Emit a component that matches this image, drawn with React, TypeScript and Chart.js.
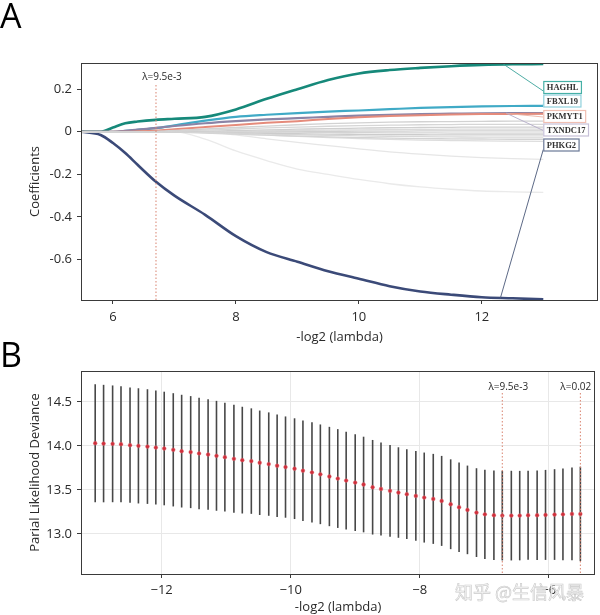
import React, { useEffect, useRef } from 'react';
import { Chart, registerables } from 'chart.js';

Chart.register(...registerables);
Chart.defaults.font.family = '"Open Sans", "DejaVu Sans", sans-serif';

// ---------------- Panel A: coefficient paths ----------------
const LAMBDA_A = [5.48, 5.8, 6.0, 6.2, 6.4, 6.7, 7.0, 7.5, 8.0, 8.5, 9.0, 9.5, 10.0, 10.5, 11.0, 11.5, 12.0, 12.5, 13.0];
const COEF_HAGHL = [0, 0, 0.02, 0.04, 0.048, 0.056, 0.061, 0.07, 0.105, 0.155, 0.2, 0.243, 0.274, 0.29, 0.3, 0.308, 0.314, 0.317, 0.318];
const COEF_FBXL19 = [0, 0, 0, 0.004, 0.009, 0.017, 0.03, 0.052, 0.07, 0.08, 0.088, 0.095, 0.1, 0.106, 0.112, 0.116, 0.119, 0.121, 0.122];
const COEF_PKMYT1 = [0, 0, 0, 0, 0.002, 0.006, 0.012, 0.022, 0.032, 0.042, 0.05, 0.06, 0.068, 0.074, 0.078, 0.081, 0.083, 0.084, 0.085];
const COEF_TXNDC17 = [0, 0, 0, 0.004, 0.01, 0.018, 0.027, 0.04, 0.05, 0.058, 0.064, 0.07, 0.076, 0.08, 0.083, 0.085, 0.087, 0.088, 0.088];
const COEF_PHKG2 = [0, -0.015, -0.053, -0.1, -0.155, -0.235, -0.3, -0.39, -0.49, -0.565, -0.61, -0.655, -0.69, -0.725, -0.75, -0.765, -0.777, -0.782, -0.787];

const GRAY_1 = [0, 0, 0, 0, 0, 0.002, 0.006, 0.013, 0.02, 0.027, 0.033, 0.038, 0.042, 0.045, 0.047, 0.048, 0.049, 0.05, 0.05];
const GRAY_2 = [0, 0, 0, 0, 0, 0, 0.003, 0.008, 0.013, 0.018, 0.022, 0.026, 0.029, 0.031, 0.033, 0.034, 0.035, 0.035, 0.035];
const GRAY_3 = [0, 0, 0, 0, 0, 0, 0, 0.003, 0.006, 0.009, 0.012, 0.015, 0.017, 0.019, 0.02, 0.021, 0.022, 0.022, 0.022];
const GRAY_4 = [0, 0, 0, 0, 0, 0, 0, 0, 0.002, 0.004, 0.006, 0.008, 0.009, 0.01, 0.011, 0.012, 0.012, 0.012, 0.012];
const GRAY_5 = [0, 0, 0, 0, 0, 0, 0, 0, 0, 0, 0.001, 0.002, 0.003, 0.003, 0.004, 0.004, 0.004, 0.004, 0.004];
const GRAY_6 = [0, 0, 0, 0, 0, 0, 0, 0, 0, -0.001, -0.002, -0.003, -0.004, -0.005, -0.005, -0.006, -0.006, -0.006, -0.006];
const GRAY_7 = [0, 0, 0, 0, 0, 0, 0, -0.002, -0.004, -0.007, -0.009, -0.011, -0.012, -0.013, -0.014, -0.015, -0.015, -0.015, -0.015];
const GRAY_8 = [0, 0, 0, 0, 0, 0, 0, -0.003, -0.007, -0.011, -0.014, -0.017, -0.019, -0.021, -0.023, -0.024, -0.025, -0.025, -0.025];
const GRAY_9 = [0, 0, 0, 0, 0, 0, -0.002, -0.006, -0.011, -0.016, -0.02, -0.024, -0.027, -0.03, -0.032, -0.033, -0.034, -0.035, -0.035];
const GRAY_10 = [0, 0, 0, 0, 0, 0, 0, -0.004, -0.01, -0.016, -0.022, -0.027, -0.032, -0.036, -0.039, -0.041, -0.043, -0.044, -0.045];
const GRAY_11 = [0, 0, 0, 0, 0, 0, 0, 0, -0.015, -0.033, -0.05, -0.065, -0.08, -0.094, -0.105, -0.114, -0.121, -0.126, -0.13];
const GRAY_12 = [0, 0, 0, 0, 0, 0, 0, -0.035, -0.09, -0.135, -0.175, -0.2, -0.224, -0.244, -0.259, -0.27, -0.278, -0.282, -0.285];

const GENES = ['HAGHL', 'FBXL19', 'PKMYT1', 'TXNDC17', 'PHKG2'];
const A_X_TICKS = [6, 8, 10, 12];
const A_Y_TICKS = [0.2, 0, -0.2, -0.4, -0.6];
const A_CUT = 6.7;
const A_CUT_LABEL = 'λ=9.5e-3';

// ---------------- Panel B: cross-validation ----------------
const B_LOG_LAMBDA = [
  -13.03, -12.9, -12.76, -12.63, -12.49, -12.36, -12.22, -12.09, -11.96, -11.82,
  -11.69, -11.55, -11.42, -11.28, -11.15, -11.02, -10.88, -10.75, -10.61, -10.48,
  -10.34, -10.21, -10.08, -9.94, -9.81, -9.67, -9.54, -9.4, -9.27, -9.14,
  -9.0, -8.87, -8.73, -8.6, -8.46, -8.33, -8.2, -8.06, -7.93, -7.79,
  -7.66, -7.52, -7.39, -7.26, -7.12, -6.99, -6.85, -6.72, -6.58, -6.45,
  -6.32, -6.18, -6.05, -5.91, -5.78, -5.64, -5.51,
];
const B_MEAN = [
  14.03, 14.026, 14.023, 14.019, 14.008, 14.0, 13.992, 13.981, 13.97, 13.955,
  13.94, 13.929, 13.914, 13.902, 13.887, 13.872, 13.853, 13.838, 13.827, 13.808,
  13.793, 13.774, 13.759, 13.741, 13.718, 13.699, 13.677, 13.652, 13.629, 13.606,
  13.583, 13.561, 13.53, 13.511, 13.489, 13.47, 13.451, 13.432, 13.413, 13.398,
  13.375, 13.337, 13.303, 13.273, 13.242, 13.223, 13.212, 13.208, 13.208, 13.208,
  13.212, 13.212, 13.216, 13.22, 13.223, 13.227, 13.227,
];
const B_SE = [
  0.67, 0.667, 0.663, 0.658, 0.655, 0.654, 0.651, 0.648, 0.645, 0.643,
  0.64, 0.636, 0.633, 0.628, 0.624, 0.618, 0.613, 0.606, 0.599, 0.593,
  0.587, 0.581, 0.575, 0.572, 0.57, 0.568, 0.566, 0.564, 0.561, 0.555,
  0.549, 0.543, 0.537, 0.528, 0.52, 0.514, 0.51, 0.51, 0.511, 0.511,
  0.511, 0.51, 0.507, 0.503, 0.504, 0.507, 0.509, 0.509, 0.509, 0.508,
  0.506, 0.508, 0.511, 0.515, 0.521, 0.527, 0.536,
];
const B_X_TICKS = [-12, -10, -8, -6];
const B_Y_TICKS = [13.0, 13.5, 14.0, 14.5];
const B_CUTS = [-6.72, -5.51];
const B_CUT_LABELS = ['λ=9.5e-3', 'λ=0.02'];

const WATERMARK = '知乎 @生信风暴';

const TXT = '#2a2a2a';
const FRAME = '#3a3a3a';

function framePlugin(id: string) {
  return {
    id,
    afterDraw(chart: any) {
      const { ctx, chartArea } = chart;
      ctx.save();
      ctx.strokeStyle = FRAME;
      ctx.lineWidth = 1;
      ctx.strokeRect(Math.round(chartArea.left) + 0.5, Math.round(chartArea.top) + 0.5,
        Math.round(chartArea.right - chartArea.left) - 1, Math.round(chartArea.bottom - chartArea.top));
      ctx.restore();
    },
  };
}

function letterPlugin(letter: string, baseline: number) {
  return {
    id: 'letter' + letter,
    afterDraw(chart: any) {
      const { ctx } = chart;
      ctx.save();
      ctx.font = '34px "Open Sans"';
      ctx.fillStyle = '#000';
      ctx.textBaseline = 'alphabetic';
      ctx.textAlign = 'left';
      ctx.fillText(letter, 0, baseline);
      ctx.restore();
    },
  };
}

function cutPlugin(cuts: number[], labels: string[], labelDy: number, lineDy: number) {
  return {
    id: 'cuts',
    afterDatasetsDraw(chart: any) {
      const { ctx, chartArea, scales } = chart;
      ctx.save();
      cuts.forEach((c, i) => {
        const px = scales.x.getPixelForValue(c);
        ctx.strokeStyle = '#d9826e';
        ctx.lineWidth = 1;
        ctx.setLineDash([1.5, 2]);
        ctx.beginPath();
        ctx.moveTo(px, chartArea.top + lineDy);
        ctx.lineTo(px, chartArea.bottom);
        ctx.stroke();
        ctx.setLineDash([]);
        ctx.font = '10px "Open Sans"';
        ctx.fillStyle = TXT;
        ctx.textAlign = 'center';
        ctx.textBaseline = 'middle';
        const w = ctx.measureText(labels[i]).width;
        const cx = Math.min(px + 6, chartArea.right - w / 2 - 4);
        ctx.fillText(labels[i], cx, chartArea.top + labelDy);
      });
      ctx.restore();
    },
  };
}

const GENE_LINE = ['#16897a', '#40aac6', '#e58b7b', '#8b84a6', '#3b4a78'];
const GENE_BOX = ['#46b0a6', '#8fd0dc', '#f0bfb2', '#c7c0d8', '#6a7896'];
const GENE_LINK = ['#3aa39a', '#8fd0dc', '#eab3a6', '#b3abc8', '#4a5878'];

const geneLabelPlugin = {
  id: 'geneLabels',
  afterDatasetsDraw(chart: any) {
    const { ctx, chartArea, scales } = chart;
    const { x, y } = scales;
    const boxLeft = x.getPixelForValue(13.0);
    const centers = [24, 37.5, 53, 66.5, 81.5].map((d) => chartArea.top + d);
    const anchors = [
      [12.35, 0.318, 4],
      [13.0, 0.122, 3],
      [12.4, 0.086, 1],
      [12.4, 0.087, 1],
      [12.3, -0.783, 5],
    ];
    ctx.save();
    ctx.font = 'bold 8.5px "Liberation Serif"';
    GENES.forEach((g, i) => {
      const [ax, ay, dy] = anchors[i];
      ctx.strokeStyle = GENE_LINK[i];
      ctx.lineWidth = 0.9;
      ctx.beginPath();
      ctx.moveTo(x.getPixelForValue(ax), y.getPixelForValue(ay));
      ctx.lineTo(boxLeft, centers[i] + dy);
      ctx.stroke();
    });
    GENES.forEach((g, i) => {
      const w = ctx.measureText(g).width + 6;
      const h = 12;
      const top = centers[i] - h / 2;
      ctx.fillStyle = '#fff';
      ctx.fillRect(boxLeft, top, w, h);
      ctx.strokeStyle = GENE_BOX[i];
      ctx.lineWidth = 1.2;
      ctx.strokeRect(boxLeft + 0.5, top + 0.5, w, h);
      ctx.fillStyle = '#333';
      ctx.textAlign = 'left';
      ctx.textBaseline = 'middle';
      ctx.fillText(g, boxLeft + 3.5, centers[i] + 1);
    });
    ctx.restore();
  },
};

function PanelA() {
  const ref = useRef<HTMLCanvasElement>(null);
  useEffect(() => {
    const grays = [GRAY_1, GRAY_2, GRAY_3, GRAY_4, GRAY_5, GRAY_6, GRAY_7, GRAY_8, GRAY_9, GRAY_10, GRAY_11, GRAY_12];
    const grayColors = ['#d2d2d2', '#d6d6d6', '#cfcfcf', '#dadada', '#d0d0d0', '#d4d4d4', '#cccccc', '#d8d8d8', '#d3d3d3', '#dddddd', '#e6e6e6', '#eaeaea'];
    const toPts = (arr: number[]) => LAMBDA_A.map((l, i) => ({ x: l, y: arr[i] }));
    const coloredArr = [COEF_HAGHL, COEF_FBXL19, COEF_PKMYT1, COEF_TXNDC17, COEF_PHKG2];
    const widths = [2.6, 2.2, 2.0, 2.2, 2.6];
    const datasets: any[] = [
      ...grays.map((g, i) => ({
        label: 'g' + i, data: toPts(g), borderColor: grayColors[i], borderWidth: 1.3,
        pointRadius: 0, cubicInterpolationMode: 'monotone', fill: false,
      })),
      ...[2, 3, 1, 0, 4].map((i) => ({
        label: GENES[i], data: toPts(coloredArr[i]), borderColor: GENE_LINE[i], borderWidth: widths[i],
        pointRadius: 0, cubicInterpolationMode: 'monotone', fill: false,
      })),
    ];
    const chart = new Chart(ref.current!, {
      type: 'line',
      data: { datasets },
      options: {
        animation: false,
        responsive: false,
        layout: { padding: { top: 63, right: 2, left: 0, bottom: 0 } },
        plugins: { legend: { display: false }, tooltip: { enabled: false } },
        scales: {
          x: {
            type: 'linear', min: 5.48, max: 13.89,
            afterBuildTicks: (s: any) => { s.ticks = A_X_TICKS.map((v) => ({ value: v })); },
            afterFit: (s: any) => { s.height = 45; },
            ticks: { autoSkip: false, maxRotation: 0, padding: 5, color: TXT, font: { size: 13 }, callback: (v: any) => String(v) },
            grid: { display: true, drawOnChartArea: false, drawTicks: true, tickLength: 4, tickColor: FRAME },
            border: { display: false },
            title: { display: true, text: '-log2 (lambda)', color: TXT, font: { size: 13 }, padding: { top: 0, bottom: 0 } },
          },
          y: {
            type: 'linear', min: -0.79, max: 0.323,
            afterBuildTicks: (s: any) => { s.ticks = A_Y_TICKS.map((v) => ({ value: v })); },
            afterFit: (s: any) => { s.width = 81; },
            ticks: { autoSkip: false, padding: 5, color: TXT, font: { size: 13 }, callback: (v: any) => (Math.abs(v) < 1e-9 ? '0' : Number(v).toFixed(1)) },
            grid: { display: true, drawOnChartArea: false, drawTicks: true, tickLength: 4, tickColor: FRAME },
            border: { display: false },
            title: { display: true, text: 'Coefficients', color: TXT, font: { size: 13 }, padding: { top: 27, bottom: 0 } },
          },
        },
      } as any,
      plugins: [cutPlugin([A_CUT], [A_CUT_LABEL], 14, 22), geneLabelPlugin, framePlugin('frameA'), letterPlugin('A', 28)] as any,
    });
    return () => chart.destroy();
  }, []);
  return <canvas ref={ref} width={600} height={345} style={{ position: 'absolute', left: 0, top: 0, width: 600, height: 345 }} />;
}

const errorBarPlugin = {
  id: 'errbars',
  beforeDatasetsDraw(chart: any) {
    const { ctx, scales } = chart;
    const { x, y } = scales;
    ctx.save();
    ctx.strokeStyle = '#474747';
    ctx.lineWidth = 1.6;
    B_LOG_LAMBDA.forEach((l, i) => {
      const px = x.getPixelForValue(l);
      ctx.beginPath();
      ctx.moveTo(px, y.getPixelForValue(B_MEAN[i] - B_SE[i]));
      ctx.lineTo(px, y.getPixelForValue(B_MEAN[i] + B_SE[i]));
      ctx.stroke();
    });
    ctx.restore();
  },
};

const watermarkPlugin = {
  id: 'watermark',
  afterDraw(chart: any) {
    const { ctx } = chart;
    ctx.save();
    ctx.font = '18px "Noto Sans CJK SC"';
    ctx.textAlign = 'left';
    ctx.textBaseline = 'alphabetic';
    ctx.fillStyle = 'rgba(246,246,246,0.9)';
    ctx.fillText(WATERMARK, 455, 264);
    ctx.strokeStyle = 'rgba(185,185,185,0.75)';
    ctx.lineWidth = 0.6;
    ctx.strokeText(WATERMARK, 455, 264);
    ctx.restore();
  },
};

function PanelB() {
  const ref = useRef<HTMLCanvasElement>(null);
  useEffect(() => {
    const chart = new Chart(ref.current!, {
      type: 'scatter',
      data: {
        datasets: [{
          label: 'mean',
          data: B_LOG_LAMBDA.map((l, i) => ({ x: l, y: B_MEAN[i] })),
          pointRadius: 1.9,
          pointBackgroundColor: '#cf2f3b',
          pointBorderColor: 'rgba(225,110,120,0.55)',
          pointBorderWidth: 0.8,
          showLine: false,
        }],
      },
      options: {
        animation: false,
        responsive: false,
        layout: { padding: { top: 36, right: 2, left: 0, bottom: 0 } },
        plugins: { legend: { display: false }, tooltip: { enabled: false } },
        scales: {
          x: {
            type: 'linear', min: -13.25, max: -5.28,
            afterBuildTicks: (s: any) => { s.ticks = B_X_TICKS.map((v) => ({ value: v })); },
            afterFit: (s: any) => { s.height = 41; },
            ticks: { autoSkip: false, maxRotation: 0, padding: 4, color: TXT, font: { size: 13 }, callback: (v: any) => String(v).replace('-', '\u2212') },
            grid: { display: true, drawOnChartArea: true, color: '#e8e8e8', drawTicks: true, tickLength: 4, tickColor: FRAME },
            border: { display: false },
            title: { display: true, text: '-log2 (lambda)', color: TXT, font: { size: 13 }, padding: { top: 0, bottom: 0 } },
          },
          y: {
            type: 'linear', min: 12.545, max: 14.85,
            afterBuildTicks: (s: any) => { s.ticks = B_Y_TICKS.map((v) => ({ value: v })); },
            afterFit: (s: any) => { s.width = 81; },
            ticks: { autoSkip: false, padding: 5, color: TXT, font: { size: 13 }, callback: (v: any) => Number(v).toFixed(1) },
            grid: { display: true, drawOnChartArea: true, color: '#e8e8e8', drawTicks: true, tickLength: 4, tickColor: FRAME },
            border: { display: false },
            title: { display: true, text: 'Parial Likelihood Deviance', color: TXT, font: { size: 13 }, padding: { top: 27, bottom: 0 } },
          },
        },
      } as any,
      plugins: [errorBarPlugin, cutPlugin(B_CUTS, B_CUT_LABELS, 16, 22), framePlugin('frameB'), letterPlugin('B', 32), watermarkPlugin] as any,
    });
    return () => chart.destroy();
  }, []);
  return <canvas ref={ref} width={600} height={280} style={{ position: 'absolute', left: 0, top: 335, width: 600, height: 280 }} />;
}

export default function App() {
  return (
    <div style={{ position: 'absolute', left: 0, top: 0, width: 600, height: 615, background: '#fff' }}>
      <PanelA />
      <PanelB />
    </div>
  );
}
